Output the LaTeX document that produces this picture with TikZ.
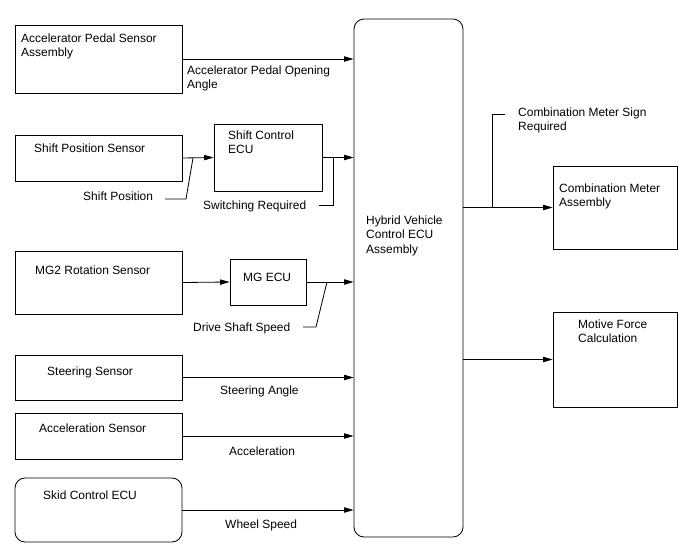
\documentclass[tikz,border=0pt]{standalone}
\usepackage{fontspec}
\setmainfont{Liberation Sans}
\usetikzlibrary{arrows.meta}
\begin{document}
\begin{tikzpicture}[x=0.03cm, y=-0.03cm,
  font=\fontsize{10.2}{12.3}\selectfont,
  box/.style 2 args={draw, line width=0.7pt, minimum width=#1*0.03cm,
                     minimum height=#2*0.03cm, inner sep=0pt},
  rbox/.style 2 args={box={#1}{#2}, rounded corners=0.3cm},
  txt/.style={anchor=base west, align=left, inner sep=0pt},
  arr/.style={-{Triangle[length=8pt, width=4.5pt]}, line width=0.7pt},
  lead/.style={line width=0.7pt}
]
  \useasboundingbox (0,0) rectangle (688,560);
  % Blöcke
  \node[box={167}{68}]   (apsa)  at (98.5,59)    {};
  \node[box={167}{46}]   (sps)   at (98.5,158)   {};
  \node[box={108}{67}]   (sce)   at (268,157.5)  {};
  \node[box={167}{63}]   (mg2)   at (98.5,282.5) {};
  \node[box={76}{46}]    (mge)   at (268,282)    {};
  \node[box={167}{45}]   (steer) at (98.5,377.5) {};
  \node[box={167}{46}]   (accs)  at (98.5,436)   {};
  \node[rbox={167}{64}]  (skid)  at (98.5,510)   {};
  \node[rbox={109}{518}] (hv)    at (408.5,278)  {};
  \node[box={124}{83}]   (cma)   at (615,207.5)  {};
  \node[box={124}{95}]   (mfc)   at (615,359.5)  {};
  % Beschriftung der Blöcke (base = letzte Zeile)
  \node[txt] (apsaT)  at (21,56.5)   {Accelerator Pedal Sensor\\Assembly};
  \node[txt] (spsT)   at (34,152.5)  {Shift Position Sensor};
  \node[txt] (sceT)   at (228,153.5) {Shift Control\\ECU};
  \node[txt] (mg2T)   at (35,274)    {MG2 Rotation Sensor};
  \node[txt] (mgeT)   at (243,281)   {MG ECU};
  \node[txt] (steerT) at (47,375)    {Steering Sensor};
  \node[txt] (accsT)  at (39,432)    {Acceleration Sensor};
  \node[txt] (skidT)  at (43,499)    {Skid Control ECU};
  \node[txt] (hvT)    at (366,253)   {Hybrid Vehicle\\Control ECU\\Assembly};
  \node[txt] (cmaT)   at (559,206.5) {Combination Meter\\Assembly};
  \node[txt] (mfcT)   at (578,342.5) {Motive Force\\Calculation};
  % Signale
  \node[txt] (sigAcc)   at (187,88.5)  {Accelerator Pedal Opening\\Angle};
  \node[txt] (sigShift) at (83,200)    {Shift Position};
  \node[txt] (sigSw)    at (203,209)   {Switching Required};
  \node[txt] (sigDrive) at (193,331)   {Drive Shaft Speed};
  \node[txt] (sigSteer) at (220,394)   {Steering Angle};
  \node[txt] (sigAccel) at (229,455)   {Acceleration};
  \node[txt] (sigWheel) at (225,528)   {Wheel Speed};
  \node[txt] (sigMeter) at (518,130.5) {Combination Meter Sign\\Required};
  % Pfeile
  \draw[arr] (apsa.east)  -- (apsa.east -| hv.west);
  \draw[arr] (sps.east)   -- (sce.west);
  \draw[arr] (sce.east)   -- (sce.east -| hv.west);
  \draw[arr] (mg2.east)   -- (mge.west);
  \draw[arr] (mge.east)   -- (mge.east -| hv.west);
  \draw[arr] (steer.east) -- (steer.east -| hv.west);
  \draw[arr] (accs.east)  -- (accs.east -| hv.west);
  \draw[arr] (skid.east)  -- (skid.east -| hv.west);
  \draw[arr] (hv.east |- cma.west) -- (cma.west);
  \draw[arr] (hv.east |- mfc.west) -- (mfc.west);
  % Hinweislinien
  \coordinate (lShift) at (193,158);
  \coordinate (lSw)    at (333,158);
  \coordinate (lDrive) at (327,282);
  \coordinate (lMeter) at (492,207.5);
  \draw[lead] (lShift) -- (186,199) -- (165,199);
  \draw[lead] (lSw)    -- (333,205) -- (319,205);
  \draw[lead] (lDrive) -- (316,327) -- (303,327);
  \draw[lead] (lMeter) -- (492,114) -- (505,114);
\end{tikzpicture}
\end{document}
